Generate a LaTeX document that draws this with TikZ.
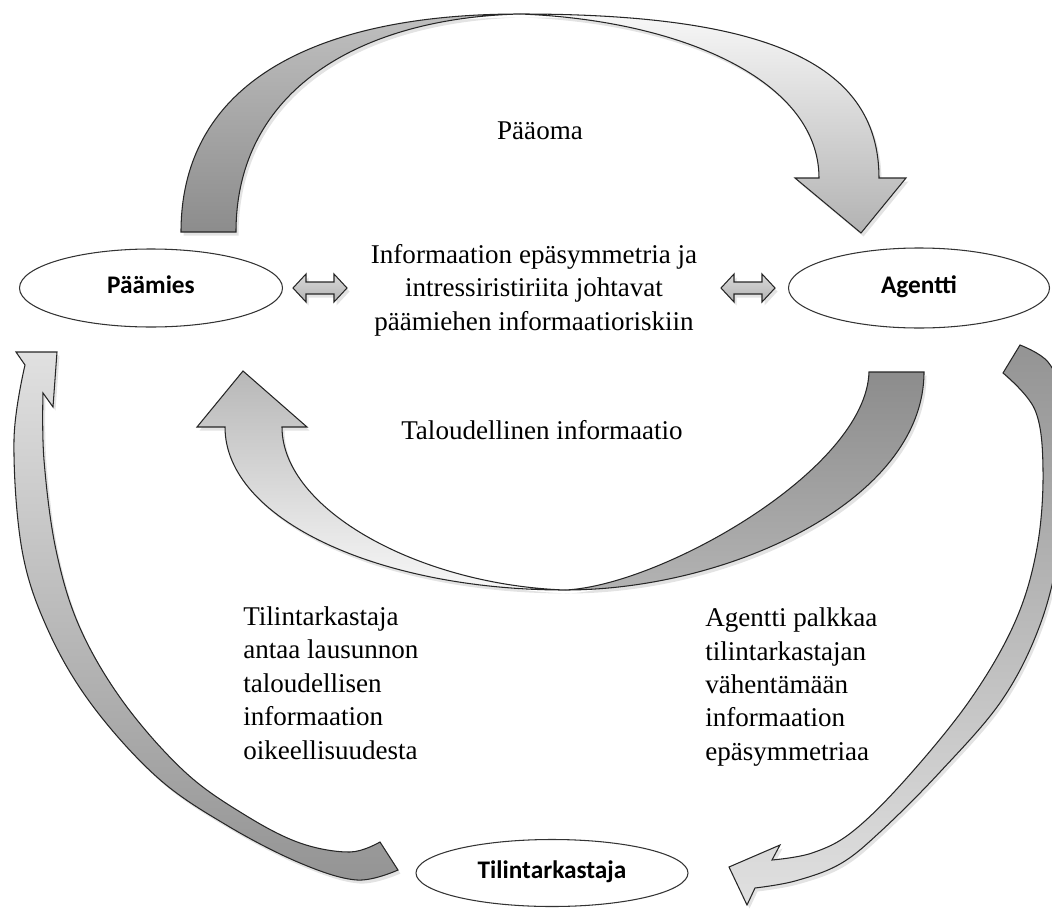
\documentclass[tikz,border=0pt]{standalone}
\usepackage{fontspec}
\setmainfont{Liberation Serif}
\newfontfamily\boxfont{Carlito}
\usetikzlibrary{shapes.geometric,shadows}

\begin{document}
\begin{tikzpicture}[x=0.2mm,y=-0.2mm,
    party/.style={ellipse,draw=black!80,line width=0.6pt,fill=white,inner sep=0pt,text height=1.45ex,text depth=0.2ex,font=\boxfont\bfseries\fontsize{14.4}{17}\selectfont},
    band/.style={draw=black!85,line width=0.6pt,drop shadow={opacity=0.22,shadow xshift=0.5mm,shadow yshift=-0.7mm}},
    txt/.style={inner sep=0pt,font=\fontsize{15.4}{19}\selectfont}]
    \useasboundingbox (0,0) rectangle (1052,909);
    \draw[band,top color=black!25,bottom color=black!45] (181,232) .. controls (181,80) and (320,14) .. (520,14) .. controls (360,18) and (236,90) .. (236,232) -- cycle;
    \draw[band,shading angle=-45,top color=black!3,bottom color=black!30] (520,14) .. controls (760,14) and (879,60) .. (879,178) -- (906,178) -- (861,233) -- (795,178) -- (819,178) .. controls (819,80) and (680,20) .. (520,14) -- cycle;
    \draw[band,top color=black!45,bottom color=black!30] (924,372) .. controls (924,500) and (730,590) .. (565,590) .. controls (660,586) and (866,470) .. (869,372) -- cycle;
    \draw[band,top color=black!28,bottom color=black!3] (565,590) .. controls (380,590) and (225,520) .. (225,427) -- (197,427) -- (243,371) -- (307,427) -- (282,427) .. controls (282,510) and (420,585) .. (565,590) -- cycle;
    \draw[band,top color=black!12,bottom color=black!42] (43,393) -- (53,407) -- (57,352) -- (16,352) -- (25,365)
      -- plot[smooth,tension=0.6] coordinates {(25,365) (14,440) (22,550) (48,630) (92,705) (158,778) (228,826) (300,863) (357,880) (398,870)}
      -- plot[smooth,tension=0.6] coordinates {(380,842) (350,852) (300,843) (245,815) (185,772) (124,703) (80,628) (56,550) (44,460) (43,393)} -- cycle;
    \draw[band,top color=black!42,bottom color=black!12] (1003,373) -- (1020,345)
      -- plot[smooth,tension=0.6] coordinates {(1020,345) (1048,362) (1064,400) (1068,460) (1060,545) (1040,625) (1002,700) (940,772) (880,832) (840,864) (795,881) (755,888)}
      -- (747,905) -- (729,867) -- (780,845) -- (772,860)
      -- plot[smooth,tension=0.6] coordinates {(772,860) (812,853) (852,832) (905,780) (970,700) (1015,622) (1037,548) (1043,470) (1035,410) (1003,373)} -- cycle;
    \foreach \cx in {320,748}
      \draw[band,top color=black!15,middle color=black!2,bottom color=black!30] ({\cx-27},288) -- ({\cx-14},274) -- ({\cx-14},282) -- ({\cx+14},282) -- ({\cx+14},274) -- ({\cx+27},288) -- ({\cx+14},302) -- ({\cx+14},294) -- ({\cx-14},294) -- ({\cx-14},302) -- cycle;
    \node[party,minimum width=52.6mm,minimum height=15.6mm] (paamies) at (151,288) {Päämies};
    \node[party,minimum width=52.2mm,minimum height=16mm] (agentti) at (919,288) {Agentti};
    \node[party,minimum width=54.4mm,minimum height=13.4mm] (tilintarkastaja) at (552,873) {Tilintarkastaja};
    \node[txt] (paaoma) at (540,131) {Pääoma};
    \node[txt,align=center] (asymmetria) at (534,290) {Informaation epäsymmetria ja\\intressiristiriita johtavat\\päämiehen informaatioriskiin};
    \node[txt] (talinfo) at (542,430) {Taloudellinen informaatio};
    \node[txt,align=left,anchor=west] (lausunto) at (243,683) {Tilintarkastaja\\antaa lausunnon\\taloudellisen\\informaation\\oikeellisuudesta};
    \node[txt,align=left,anchor=west] (palkkaa) at (705,687) {Agentti palkkaa\\tilintarkastajan\\vähentämään\\informaation\\epäsymmetriaa};
\end{tikzpicture}
\end{document}
